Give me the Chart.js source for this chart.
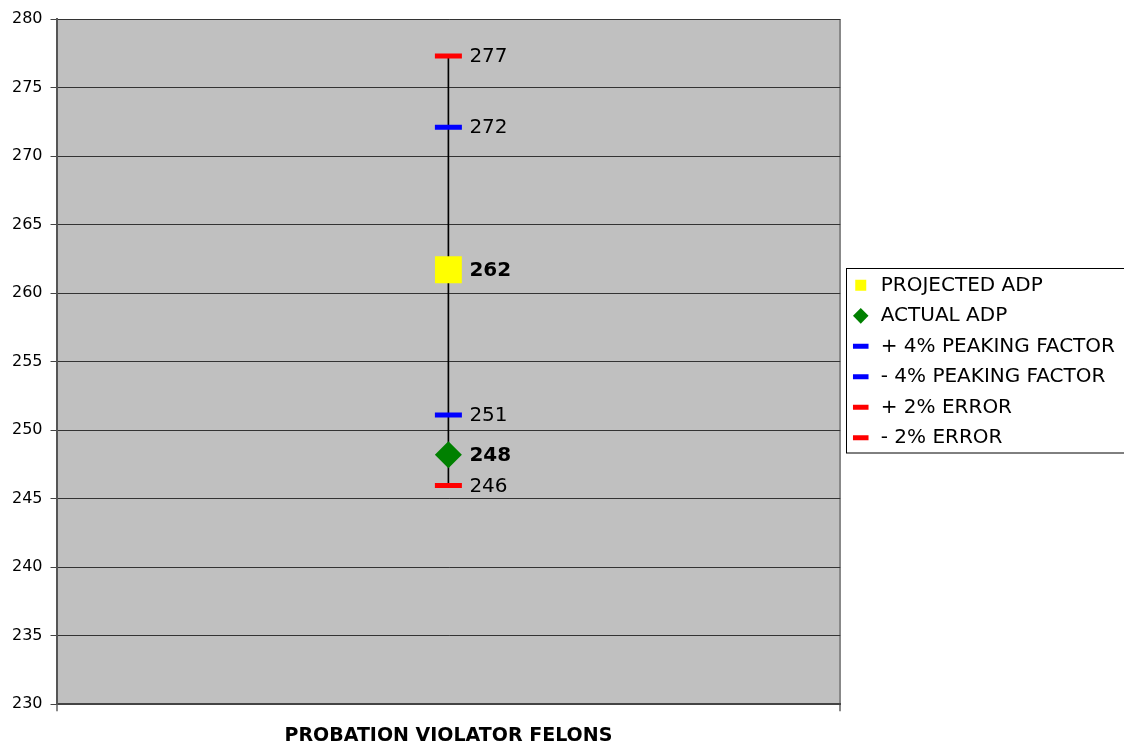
<!DOCTYPE html>
<html>
<head>
<meta charset="utf-8">
<script src="https://cdn.jsdelivr.net/npm/chart.js@4"></script>
<style>
  html, body { margin: 0; padding: 0; background: #fff; }
  #wrap { width: 1124px; height: 745px; }
</style>
</head>
<body>
<div id="wrap"><canvas id="adpChart"></canvas></div>
<script>
const categories = ['PROBATION VIOLATOR FELONS'];
const projectedAdp = [261.7];
const actualAdp = [248.2];
const peakPlus = [272.1];
const peakMinus = [251.1];
const errorPlus = [277.3];
const errorMinus = [245.96];
const yTicks = [230, 235, 240, 245, 250, 255, 260, 265, 270, 275, 280];

// high-low line runs from the lowest to the highest marker
const allValues = [projectedAdp, actualAdp, peakPlus, peakMinus, errorPlus, errorMinus];
const highLow = categories.map((c, i) => {
    const vals = allValues.map(a => a[i]);
    return [Math.min(...vals), Math.max(...vals)];
});

const plotBackground = {
    id: 'plotBackground',
    beforeDraw(chart) {
        const a = chart.chartArea;
        const ctx = chart.ctx;
        ctx.save();
        ctx.fillStyle = '#c0c0c0';
        ctx.fillRect(a.left, a.top, a.right - a.left, a.bottom - a.top);
        ctx.restore();
    }
};

const valueLabels = {
    id: 'valueLabels',
    afterDatasetsDraw(chart) {
        const ctx = chart.ctx;
        ctx.save();
        chart.data.datasets.forEach((ds, i) => {
            if (!ds.showValue) return;
            const meta = chart.getDatasetMeta(i);
            meta.data.forEach((pt, j) => {
                ctx.font = (ds.boldValue ? 'bold ' : '') + '20px "DejaVu Sans"';
                ctx.fillStyle = '#000';
                ctx.textBaseline = 'middle';
                ctx.textAlign = 'left';
                ctx.fillText(Math.round(ds.data[j]), pt.x + 21, pt.y + 1);
            });
        });
        ctx.restore();
    }
};

const legendBox = {
    id: 'legendBox',
    afterDraw(chart) {
        const boxes = chart.legend.legendHitBoxes;
        if (!boxes || !boxes.length) return;
        const top = Math.min(...boxes.map(b => b.top));
        const bottom = Math.max(...boxes.map(b => b.top + b.height));
        const left = Math.min(...boxes.map(b => b.left));
        const ctx = chart.ctx;
        ctx.save();
        ctx.strokeStyle = '#000';
        ctx.lineWidth = 1;
        ctx.strokeRect(Math.round(left - 5) + 0.5, Math.round(top - 7) + 0.5, chart.width, bottom - top + 12);
        ctx.restore();
    }
};

function markerSet(label, data, style, color, radius, width, bold) {
    return {
        type: 'line',
        label: label,
        data: data,
        showLine: false,
        pointStyle: style,
        pointRadius: radius,
        pointHoverRadius: radius,
        pointBackgroundColor: color,
        pointBorderColor: color,
        pointBorderWidth: width,
        backgroundColor: color,
        borderColor: color,
        showValue: true,
        boldValue: bold,
        order: 1
    };
}

new Chart(document.getElementById('adpChart'), {
    type: 'bar',
    data: {
        labels: categories,
        datasets: [
            markerSet('PROJECTED ADP', projectedAdp, 'rect', '#ffff00', 19, 0, true),
            markerSet('ACTUAL ADP', actualAdp, 'rectRot', '#008000', 13.5, 0, true),
            markerSet('+ 4% PEAKING FACTOR', peakPlus, 'line', '#0000ff', 13.5, 5, false),
            markerSet('- 4% PEAKING FACTOR', peakMinus, 'line', '#0000ff', 13.5, 5, false),
            markerSet('+ 2% ERROR', errorPlus, 'line', '#ff0000', 13.5, 5, false),
            markerSet('- 2% ERROR', errorMinus, 'line', '#ff0000', 13.5, 5, false),
            {
                type: 'bar',
                label: 'high-low',
                data: highLow,
                backgroundColor: '#000',
                barThickness: 1,
                order: 10
            }
        ]
    },
    options: {
        responsive: true,
        maintainAspectRatio: false,
        animation: false,
        layout: { padding: { top: 13, left: 4, bottom: -15, right: 5 } },
        plugins: {
            tooltip: { enabled: false },
            legend: {
                position: 'right',
                fullSize: false,
                labels: {
                    usePointStyle: true,
                    boxHeight: 11,
                    padding: 10.5,
                    color: '#000',
                    font: { family: '"DejaVu Sans"', size: 20 },
                    filter: item => item.datasetIndex < 6
                }
            }
        },
        scales: {
            x: {
                offset: true,
                grid: {
                    offset: true,
                    display: true,
                    drawOnChartArea: true,
                    color: '#888',
                    lineWidth: 2,
                    tickLength: 7,
                    tickColor: '#888'
                },
                border: { color: '#444', width: 2 },
                ticks: {
                    color: '#000',
                    padding: 13,
                    font: { family: '"DejaVu Sans"', size: 19, weight: 'bold' }
                }
            },
            y: {
                min: 230,
                max: 280,
                afterBuildTicks(scale) {
                    scale.ticks = yTicks.map(v => ({ value: v }));
                },
                grid: {
                    color: '#333',
                    lineWidth: 1,
                    tickLength: 6,
                    tickColor: '#444'
                },
                border: { color: '#555', width: 2 },
                ticks: {
                    color: '#000',
                    padding: 8,
                    font: { family: '"DejaVu Sans"', size: 16 }
                }
            }
        }
    },
    plugins: [plotBackground, valueLabels, legendBox]
});
</script>
</body>
</html>
